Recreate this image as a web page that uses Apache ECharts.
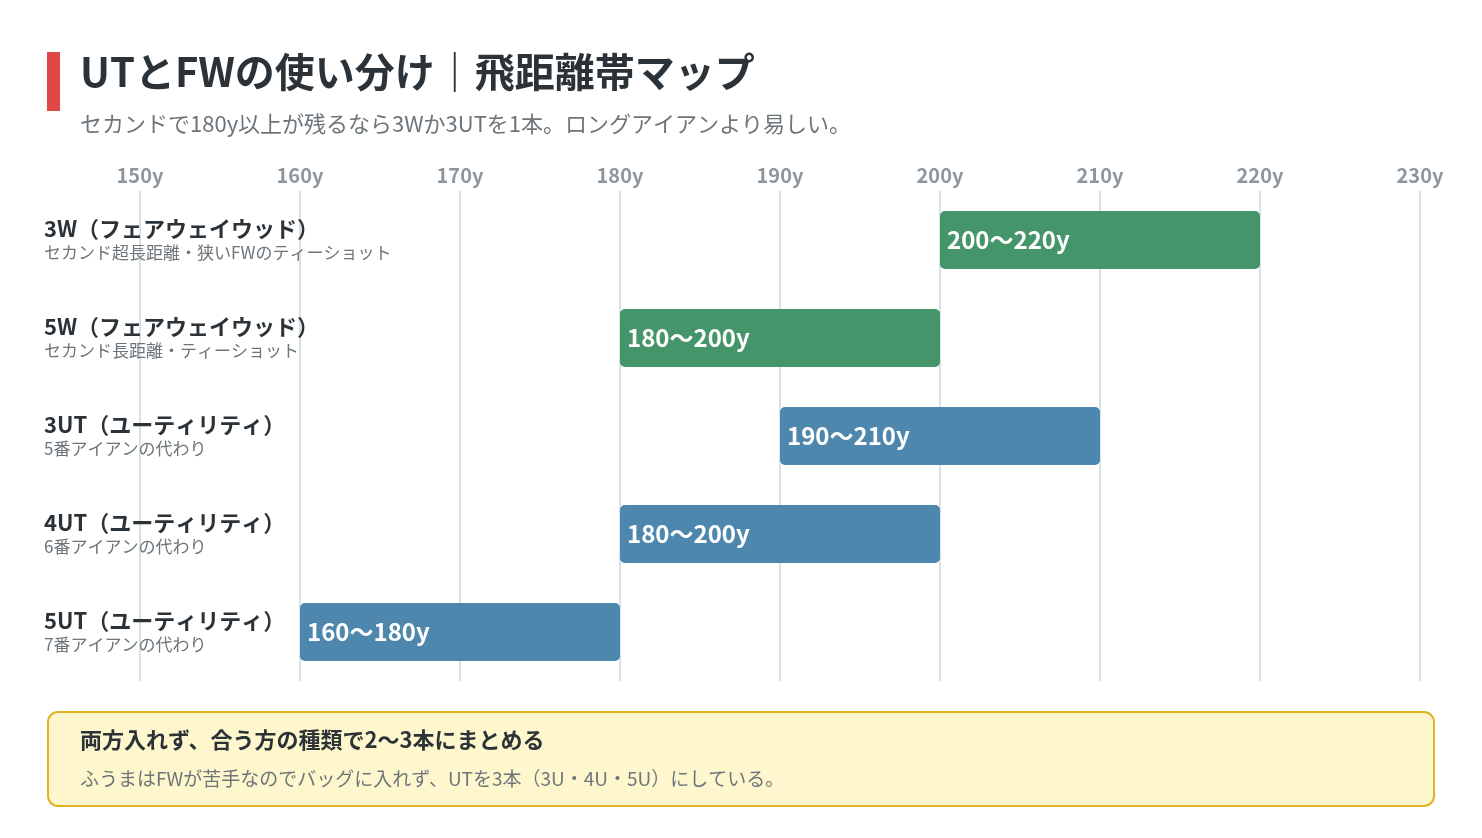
<!DOCTYPE html>
<html><head><meta charset="utf-8">
<script src="https://cdn.jsdelivr.net/npm/echarts@6/dist/echarts.min.js"></script>
<style>html,body{margin:0;padding:0;background:#fff}#c{width:1482px;height:838px}</style>
</head><body><div id="c"></div>
<script>
const clubs = ['3W（フェアウェイウッド）','5W（フェアウェイウッド）','3UT（ユーティリティ）','4UT（ユーティリティ）','5UT（ユーティリティ）'];
const notes = ['セカンド超長距離・狭いFWのティーショット','セカンド長距離・ティーショット','5番アイアンの代わり','6番アイアンの代わり','7番アイアンの代わり'];
const minYd = [200,180,190,180,160];
const maxYd = [220,200,210,200,180];
const kinds = ['fw','fw','ut','ut','ut'];
const colors = {fw:'#45956a', ut:'#4e87ad'};
const F = '"Noto Sans CJK JP","Noto Sans",sans-serif';
const chart = echarts.init(document.getElementById('c'));
chart.setOption({
  animation:false,
  textStyle:{fontFamily:F},
  grid:{left:140,right:62,top:191,bottom:157},
  xAxis:{type:'value',position:'top',min:150,max:230,interval:10,
    axisLine:{show:false},axisTick:{show:false},
    axisLabel:{formatter:'{value}y',color:'#8e979e',fontSize:20,fontWeight:'bold',margin:6,fontFamily:F},
    splitLine:{lineStyle:{color:'#d8e2e3',width:2}}},
  yAxis:{type:'category',inverse:true,data:clubs.map((c,i)=>c+'\n'+notes[i]),
    axisLine:{show:false},axisTick:{show:false},
    axisLabel:{align:'left',margin:96,
      formatter:(v)=>{const p=v.split('\n');return '{a|'+p[0]+'}\n{b|'+p[1]+'}';},
      rich:{a:{fontSize:22,fontWeight:'bold',color:'#2c3338',fontFamily:F,lineHeight:26},
            b:{fontSize:17,color:'#6d757b',fontFamily:F,lineHeight:22}}}},
  series:[
    {type:'bar',stack:'s',data:minYd,itemStyle:{color:'transparent'},barWidth:58,silent:true},
    {type:'bar',stack:'s',barWidth:58,
      data:maxYd.map((v,i)=>({value:v-minYd[i],itemStyle:{color:colors[kinds[i]],borderRadius:5}})),
      label:{show:true,position:'insideLeft',offset:[2,0],color:'#fff',fontSize:24,fontWeight:'bold',fontFamily:F,
        formatter:(p)=>minYd[p.dataIndex]+'〜'+maxYd[p.dataIndex]+'y'}}
  ],
  graphic:[
    {type:'rect',shape:{x:47,y:52,width:13,height:59},style:{fill:'#e04848'}},
    {type:'text',left:80,top:52,style:{text:'UTとFWの使い分け｜飛距離帯マップ',font:'bold 40px '+F,fill:'#2c3338'}},
    {type:'text',left:80,top:113,style:{text:'セカンドで180y以上が残るなら3Wか3UTを1本。ロングアイアンより易しい。',font:'22px '+F,fill:'#6d757b'}},
    {type:'rect',shape:{x:48,y:712,width:1386,height:94,r:10},style:{fill:'#fef6cc',stroke:'#e3b126',lineWidth:2}},
    {type:'text',left:80,top:729,style:{text:'両方入れず、合う方の種類で2〜3本にまとめる',font:'bold 22px '+F,fill:'#2c3338'}},
    {type:'text',left:80,top:769,style:{text:'ふうまはFWが苦手なのでバッグに入れず、UTを3本（3U・4U・5U）にしている。',font:'19px '+F,fill:'#6d757b'}}
  ]
});
</script></body></html>
